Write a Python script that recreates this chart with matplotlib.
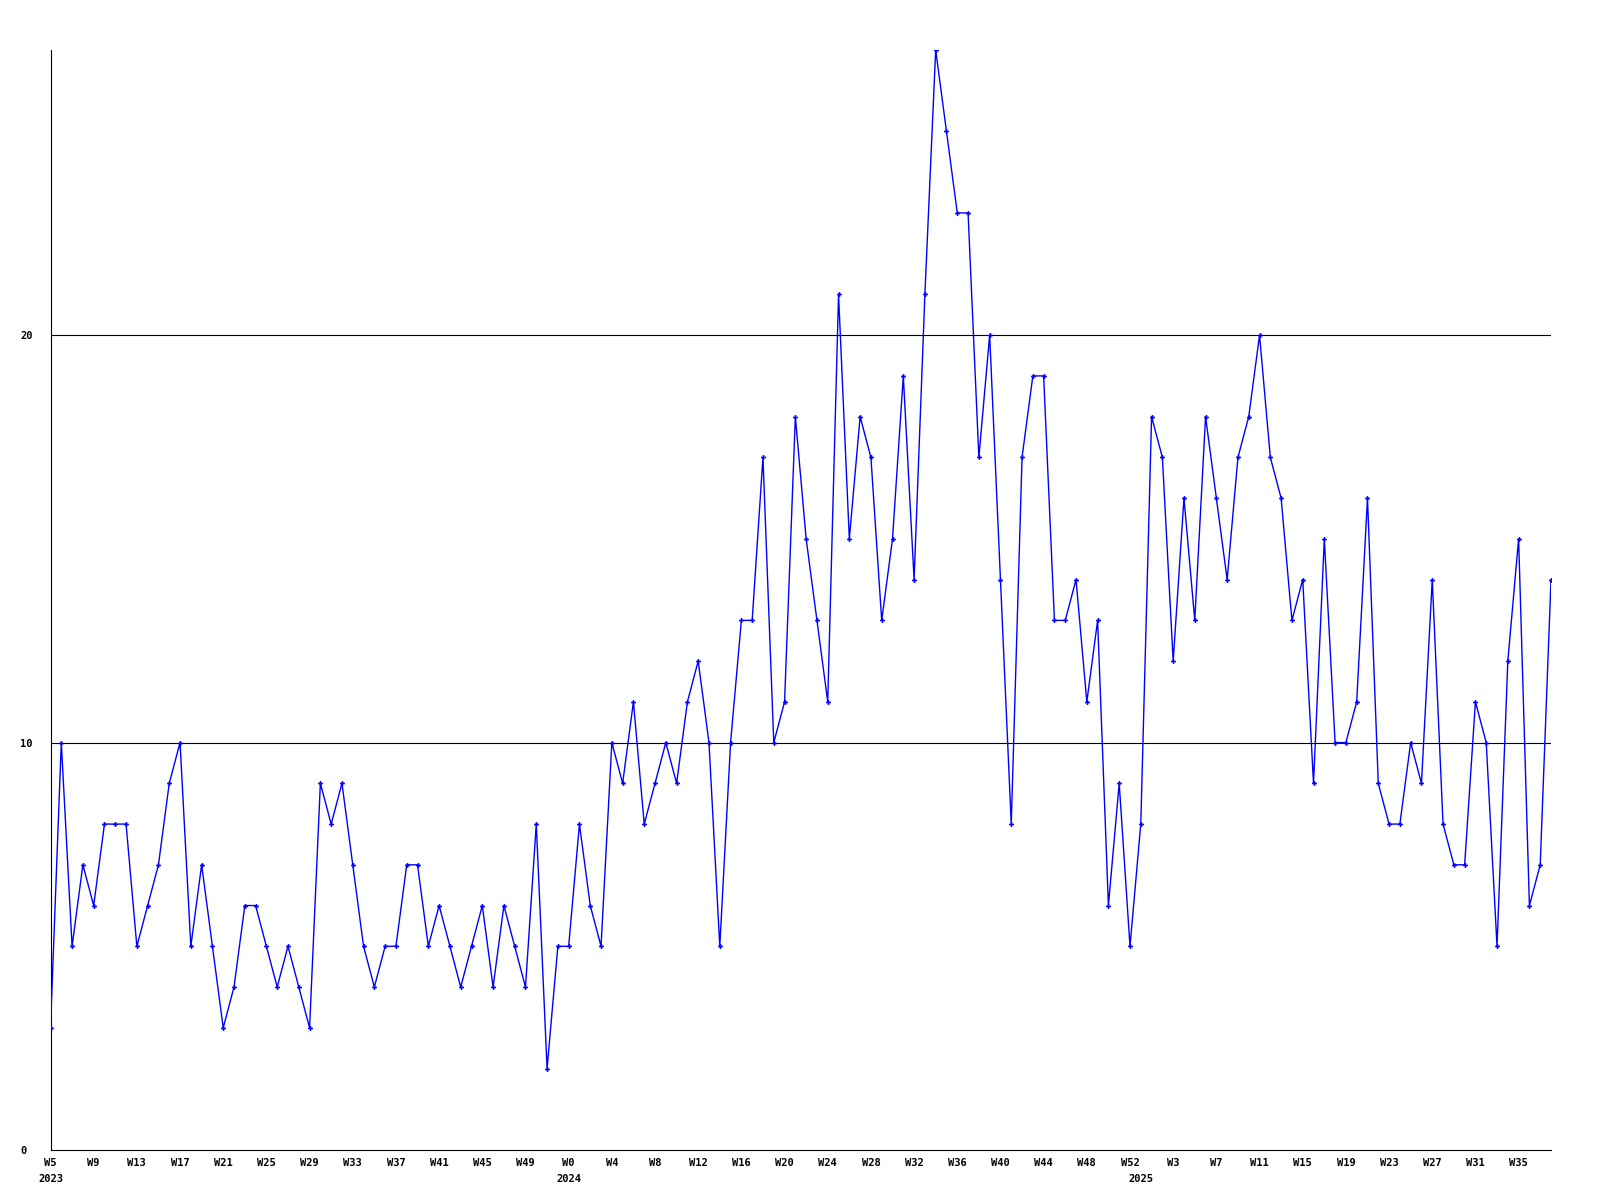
import matplotlib
matplotlib.use("Agg")
import matplotlib.pyplot as plt

# weekly counts, W5 2023 .. W37 2025
counts = [3, 10, 5, 7, 6, 8, 8, 8, 5, 6, 7, 9, 10, 5, 7, 5, 3, 4, 6, 6,
          5, 4, 5, 4, 3, 9, 8, 9, 7, 5, 4, 5, 5, 7, 7, 5, 6, 5, 4, 5,
          6, 4, 6, 5, 4, 8, 2, 5, 5, 8, 6, 5, 10, 9, 11, 8, 9, 10, 9, 11,
          12, 10, 5, 10, 13, 13, 17, 10, 11, 18, 15, 13, 11, 21, 15, 18, 17, 13, 15, 19,
          14, 21, 27, 25, 23, 23, 17, 20, 14, 8, 17, 19, 19, 13, 13, 14, 11, 13, 6, 9,
          5, 8, 18, 17, 12, 16, 13, 18, 16, 14, 17, 18, 20, 17, 16, 13, 14, 9, 15, 10,
          10, 11, 16, 9, 8, 8, 10, 9, 14, 8, 7, 7, 11, 10, 5, 12, 15, 6, 7, 14]

week_labels = ["W5", "W9", "W13", "W17", "W21", "W25", "W29", "W33", "W37", "W41",
               "W45", "W49", "W0", "W4", "W8", "W12", "W16", "W20", "W24", "W28",
               "W32", "W36", "W40", "W44", "W48", "W52", "W3", "W7", "W11", "W15",
               "W19", "W23", "W27", "W31", "W35"]
year_labels = ["2023", "2024", "2025"]
year_starts = [0, 48, 101]   # index of the first week of each year

W, H = 1600, 1200
fig = plt.figure(figsize=(16, 12), dpi=100)
ax = fig.add_axes([50.5 / W, 1 - 1150 / H, (1551 - 50.5) / W, 1100 / H])

x = list(range(len(counts)))
ax.plot(x, counts, color="#0000ff", linewidth=1.0, marker="P",
        markersize=3.5, markeredgewidth=0, zorder=3)

for lvl in (10, 20):
    ax.axhline(lvl, color="black", linewidth=0.8, zorder=1)

ax.set_xlim(0, len(counts) - 1)
ax.set_ylim(0, 27)

for side in ("top", "right"):
    ax.spines[side].set_visible(False)
for side in ("left", "bottom"):
    ax.spines[side].set_linewidth(0.8)
    ax.spines[side].set_color("black")

font = dict(family="DejaVu Sans Mono", weight="bold", size=7.5)

ax.set_yticks([0, 10, 20])
ax.set_yticklabels(["0", "10", "20"], **font)
ax.tick_params(axis="y", length=0, pad=22)
for lab in ax.get_yticklabels():
    lab.set_horizontalalignment("left")

ax.xaxis.remove_overlapping_locs = False
ax.set_xticks(list(range(0, len(counts), 4)))
ax.set_xticklabels(week_labels, **font)
ax.set_xticks(year_starts, minor=True)
ax.set_xticklabels(year_labels, minor=True, **font)
ax.tick_params(axis="x", which="major", length=0, pad=6)
ax.tick_params(axis="x", which="minor", length=0, pad=17)

fig.savefig("out.png", dpi=100, facecolor="white")
